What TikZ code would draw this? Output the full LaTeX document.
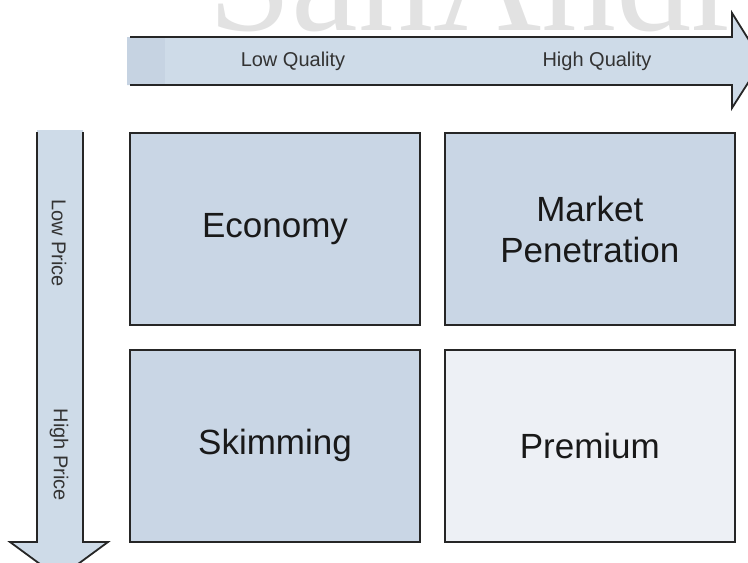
\documentclass[tikz,border=0pt]{standalone}
\usepackage{fontspec}
\setmainfont{Liberation Sans}
\newfontfamily\markfont{Liberation Serif}
\usetikzlibrary{arrows, positioning, calc}

\definecolor{boxblue}{HTML}{C9D6E5}
\definecolor{boxpale}{HTML}{EDF0F5}
\definecolor{arrowblue}{HTML}{CEDBE8}
\definecolor{arrowdark}{HTML}{C6D3E2}
\definecolor{markgray}{HTML}{E2E2E2}

\begin{document}
\begin{tikzpicture}[x=1pt, y=-1pt,
  quadrant/.style={draw=black!85, line width=1.8pt, fill=boxblue, minimum width=290pt,
    minimum height=192pt, inner sep=0pt, align=center, text=black!90,
    font=\fontsize{35}{41}\selectfont},
  axislabel/.style={font=\fontsize{20}{22}\selectfont, text=black!80},
  edge/.style={draw=black!85, line width=1.8pt, line join=miter}]

\useasboundingbox (0,0) rectangle (748,563);
\clip (0,0) rectangle (748,563);

\node [markgray, anchor=base west, inner sep=0pt, text depth=0pt, font=\markfont\fontsize{150}{150}\selectfont] (mark) at (208,30) {SanAndr};

% quality axis
\fill [arrowblue] (127,37) -- (732,37) -- (732,13) -- (762,61) -- (732,108) -- (732,85) -- (127,85) -- cycle;
\fill [arrowdark] (127,37) rectangle (165,85);
\draw [edge] (130,37) -- (732,37) -- (732,13) -- (762,61) -- (732,108) -- (732,85) -- (130,85);
\node [axislabel] (lowq) at (293,61) {Low Quality};
\node [axislabel] (highq) at (597,61) {High Quality};

% price axis
\fill [arrowblue] (37,130) -- (37,542) -- (10,542) -- (59,578) -- (108,542) -- (83,542) -- (83,130) -- cycle;
\draw [edge] (37,132) -- (37,542) -- (10,542) -- (59,578) -- (108,542) -- (83,542) -- (83,132);
\node [axislabel, rotate=-90] (lowp) at (59,243) {Low Price};
\node [axislabel, rotate=-90] (highp) at (59,455) {High Price};

% the four strategies
\node [quadrant] (eco) at (275,229) {Economy};
\node [quadrant, right=23pt of eco] (pen) {Market\\Penetration};
\node [quadrant, below=23pt of eco] (skim) {Skimming};
\node [quadrant, fill=boxpale, below=23pt of pen] (prem) {Premium};
\end{tikzpicture}
\end{document}
